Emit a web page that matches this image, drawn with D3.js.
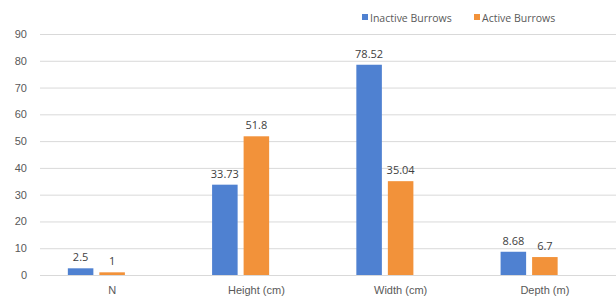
<!DOCTYPE html>
<html>
<head>
<meta charset="utf-8">
<script src="https://cdn.jsdelivr.net/npm/d3@7"></script>
<style>
  body { margin: 0; background: #fff; }
  svg { display: block; font-family: "Open Sans", "Noto Sans", sans-serif; }
  .tick text { fill: #595959; font-size: 11px; }
  .value { fill: #404040; font-size: 11px; }
  .legend text { fill: #595959; font-size: 10.5px; }
</style>
</head>
<body>
<svg id="chart" width="616" height="299"></svg>
<script>
const categories = ["N", "Height (cm)", "Width (cm)", "Depth (m)"];
const inactive = [2.5, 33.73, 78.52, 8.68];
const active = [1, 51.8, 35.04, 6.7];
const yTicks = [0, 10, 20, 30, 40, 50, 60, 70, 80, 90];

const series = [
  { key: "inactive", name: "Inactive Burrows", values: inactive, color: "#4f81d1" },
  { key: "active", name: "Active Burrows", values: active, color: "#f2923a" }
];
// the source chart keeps room for a third (empty) series in every group
const slots = ["inactive", "active", "empty"];

const width = 616, height = 299;
const margin = { top: 34, right: -1, bottom: 24, left: 40 };

const svg = d3.select("#chart");

const x0 = d3.scaleBand()
  .domain(categories)
  .range([margin.left, width - margin.right])
  .paddingInner(0.386)
  .paddingOuter(0.193);

const x1 = d3.scaleBand()
  .domain(slots)
  .range([0, x0.bandwidth()])
  .paddingInner(0.19)
  .paddingOuter(0);

const y = d3.scaleLinear()
  .domain([0, 90])
  .range([height - margin.bottom, margin.top]);

// gridlines + y labels
const yAxis = d3.axisLeft(y)
  .tickValues(yTicks)
  .tickSize(-(width - margin.left))
  .tickPadding(13);

svg.append("g")
  .attr("class", "y-axis")
  .attr("transform", `translate(${margin.left},0)`)
  .call(yAxis)
  .call(g => g.select(".domain").remove())
  .call(g => g.selectAll(".tick line").attr("stroke", "#d9d9d9"));

// x labels
svg.append("g")
  .attr("class", "x-axis")
  .attr("transform", `translate(0,${height - margin.bottom})`)
  .call(d3.axisBottom(x0).tickSize(0).tickPadding(11))
  .call(g => g.select(".domain").remove());

// bars
const groups = svg.append("g")
  .selectAll("g")
  .data(categories)
  .join("g")
  .attr("transform", d => `translate(${x0(d)},0)`);

groups.selectAll("rect")
  .data((d, i) => series.map(s => ({ key: s.key, color: s.color, value: s.values[i] })))
  .join("rect")
  .attr("x", d => x1(d.key))
  .attr("y", d => y(d.value))
  .attr("width", x1.bandwidth())
  .attr("height", d => y(0) - y(d.value))
  .attr("fill", d => d.color);

groups.selectAll(".value")
  .data((d, i) => series.map(s => ({ key: s.key, value: s.values[i] })))
  .join("text")
  .attr("class", "value")
  .attr("x", d => x1(d.key) + x1.bandwidth() / 2)
  .attr("y", d => y(d.value) - 7)
  .attr("text-anchor", "middle")
  .text(d => d.value);

// legend
const legend = svg.append("g").attr("class", "legend");
const legendX = [362, 474];
series.forEach((s, i) => {
  legend.append("rect")
    .attr("x", legendX[i])
    .attr("y", 14)
    .attr("width", 6)
    .attr("height", 6)
    .attr("fill", s.color);
  legend.append("text")
    .attr("x", legendX[i] + 8)
    .attr("y", 21.5)
    .text(s.name);
});
</script>
</body>
</html>
